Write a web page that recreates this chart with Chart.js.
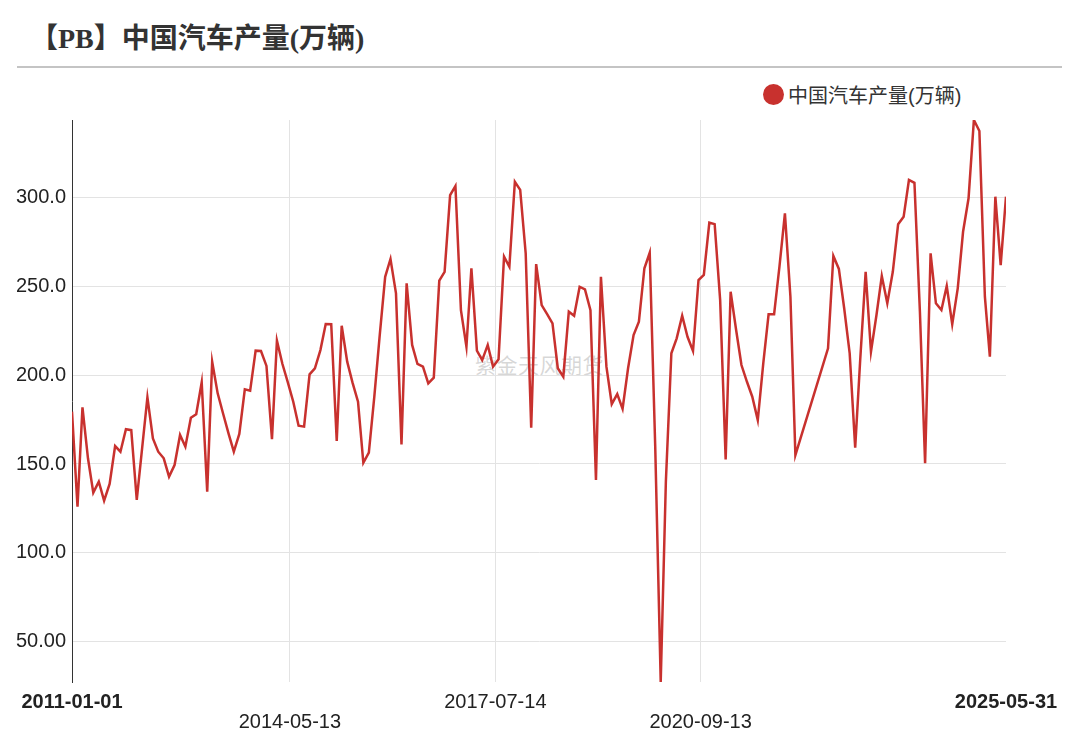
<!DOCTYPE html>
<html lang="zh-CN">
<head>
<meta charset="utf-8">
<title>中国汽车产量(万辆)</title>
<script src="https://cdn.jsdelivr.net/npm/chart.js@4.4.1/dist/chart.umd.min.js"></script>
<style>
    html, body { margin: 0; padding: 0; background: #fff; }
    body {
        width: 1080px; height: 733px; position: relative; overflow: hidden;
        font-family: "Liberation Sans", "Noto Sans CJK SC", sans-serif;
    }
    .titre {
        position: absolute; left: 30px; top: 20px;
        font: bold 28px "Liberation Serif", "Noto Sans CJK SC", serif;
        line-height: 38px; color: #333; white-space: nowrap;
    }
    .filet { position: absolute; left: 17px; top: 66px; width: 1045px; height: 2px; background: #c4c4c4; }
    .legende {
        position: absolute; left: 763px; top: 82px; height: 24px;
        display: flex; align-items: center; font-size: 20px; color: #333; white-space: nowrap;
    }
    .legende .pastille { width: 21px; height: 21px; border-radius: 50%; margin-right: 4px; }
    .filigrane {
        position: absolute; left: 475px; top: 349px; font-size: 21px;
        color: rgba(140, 140, 140, 0.35); white-space: nowrap; letter-spacing: 0.5px;
    }
    .zone-graphe { position: absolute; left: 0; top: 70px; width: 1080px; height: 663px; }
</style>
</head>
<body>
<div class="titre">【PB】中国汽车产量(万辆)</div>
<div class="filet"></div>
<div class="legende"><span class="pastille" id="pastille"></span><span id="nomSerie"></span></div>
<div class="filigrane">紫金天风期货</div>
<div class="zone-graphe"><canvas id="graphe"></canvas></div>

<script>
// ==========================================
//  DONNÉES (une valeur par mois, null = mois absent)
// ==========================================
const SERIE_NOM = '中国汽车产量(万辆)';
const COULEUR = '#c8312e';

const prod2011 = [179.4, 126, 181.8, 153.2, 133.9, 140.1, 129.4, 138.8, 160.1, 156.9, 169.5, 169];
const prod2012 = [129.8, null, 187.5, 164.4, 156.9, 153.2, 142.9, 149.4, 166.3, 159.7, 176, 178];
const prod2013 = [195.9, 134.4, 207.5, 189.7, 178.5, 167.2, 156.9, 166.9, 192, 191.2, 213.7, 213.5];
const prod2014 = [205.1, 163.9, 219.3, 206.2, 196, 185, 171.5, 171, 200.4, 203.8, 214, 228.7];
const prod2015 = [228.5, 162.9, 227.7, 207.5, 195.7, 185, 150.7, 156.4, 188, 222, 255.2, 265.2];
const prod2016 = [245.9, 161, 251.5, 216.9, 206.2, 204.7, 195.3, 198.5, 253, 258, 301.1, 306.2];
const prod2017 = [236.5, 215.9, 260, 213.7, 208.4, 216.9, 204.7, 208.8, 266.5, 260.8, 308.6, 304];
const prod2018 = [268.4, 170.4, 262.3, 239.3, 234.3, 229, 203.8, 199, 235.6, 233.3, 249.6, 248.1];
const prod2019 = [236.5, 141, 255.2, 204.7, 183.7, 189.3, 181, 203.8, 222.5, 230, 260, 268.7];
const prod2020 = [160, 27.5, 140, 212.2, 220.6, 233.3, 221.5, 213.5, 253.4, 256.2, 285.6, 284.8];
const prod2021 = [242.1, 152.6, 246.8, 225.3, 205.6, 196.2, 187.8, 174.7, 206.5, 234.1, 234.1, 260.8];
const prod2022 = [290.8, 244, 155, null, null, null, null, null, 215, 266.9, 259.6, 237.5];
const prod2023 = [212.2, 159.2, 208, 258, 213.1, 233.7, 255.6, 240.3, 258, 284.7, 288.9, 309.6];
const prod2024 = [308, 235, 150.4, 268.4, 240.3, 236.5, 250, 228.5, 248.7, 280.5, 299.3, 343.3];
const prod2025 = [337.1, 244, 210.3, 300.2, 261.8];
const derniereDate = '2025-05-31';
const derniereValeur = 300.2;

const ticksX = ['2011-01-01', '2014-05-13', '2017-07-14', '2020-09-13', '2025-05-31'];
const ticksY = [50, 100, 150, 200, 250, 300];

// ==========================================
//  CONSTRUCTION DES POINTS
// ==========================================
const versMs = s => Date.parse(s + 'T00:00:00Z');
const formatDate = ms => new Date(ms).toISOString().slice(0, 10);

const annees = [
    [2011, prod2011], [2012, prod2012], [2013, prod2013], [2014, prod2014], [2015, prod2015],
    [2016, prod2016], [2017, prod2017], [2018, prod2018], [2019, prod2019], [2020, prod2020],
    [2021, prod2021], [2022, prod2022], [2023, prod2023], [2024, prod2024], [2025, prod2025]
];

const points = [];
annees.forEach(([an, valeurs]) => {
    valeurs.forEach((v, mois) => {
        if (v !== null) points.push({ x: Date.UTC(an, mois, 1), y: v });
    });
});
points.push({ x: versMs(derniereDate), y: derniereValeur });

const valeursY = points.map(p => p.y);
const dernierIndex = ticksX.length - 1;

document.getElementById('pastille').style.background = COULEUR;
document.getElementById('nomSerie').textContent = SERIE_NOM;

// ==========================================
//  GRAPHIQUE
// ==========================================
new Chart(document.getElementById('graphe'), {
    type: 'line',
    data: {
        datasets: [{
            label: SERIE_NOM,
            data: points,
            borderColor: COULEUR,
            backgroundColor: COULEUR,
            borderWidth: 2.5,
            pointRadius: 0,
            tension: 0,
            fill: false
        }]
    },
    options: {
        responsive: true,
        maintainAspectRatio: false,
        animation: false,
        devicePixelRatio: 1,
        layout: { padding: { left: 0, right: 74, top: 50, bottom: 0 } },
        plugins: { legend: { display: false }, tooltip: { enabled: false } },
        scales: {
            x: {
                type: 'linear',
                min: versMs(ticksX[0]),
                max: versMs(ticksX[dernierIndex]),
                afterBuildTicks: scale => { scale.ticks = ticksX.map(d => ({ value: versMs(d) })); },
                afterFit: scale => { scale.height = 51; },
                border: { display: false },
                grid: {
                    drawTicks: false,
                    color: ctx => (ctx.index === 0 || ctx.index === dernierIndex) ? 'rgba(0,0,0,0)' : '#e3e3e3'
                },
                ticks: {
                    autoSkip: false,
                    maxRotation: 0,
                    padding: 10,
                    color: '#222',
                    font: ctx => ({
                        family: '"Liberation Sans", Arial, sans-serif',
                        size: 20,
                        lineHeight: '20px',
                        weight: (ctx.index === 0 || ctx.index === dernierIndex) ? 'bold' : 'normal'
                    }),
                    callback: (v, i) => i % 2 === 1 ? ['', formatDate(v)] : formatDate(v)
                }
            },
            y: {
                min: Math.min(...valeursY),
                max: Math.max(...valeursY),
                afterBuildTicks: scale => { scale.ticks = ticksY.map(v => ({ value: v })); },
                afterFit: scale => { scale.width = 72; },
                border: { display: true, color: '#333', width: 1 },
                grid: { drawTicks: false, color: '#e3e3e3' },
                ticks: {
                    padding: 6,
                    color: '#222',
                    font: { family: '"Liberation Sans", Arial, sans-serif', size: 20 },
                    callback: v => Number(v).toPrecision(4)
                }
            }
        }
    }
});
</script>
</body>
</html>
